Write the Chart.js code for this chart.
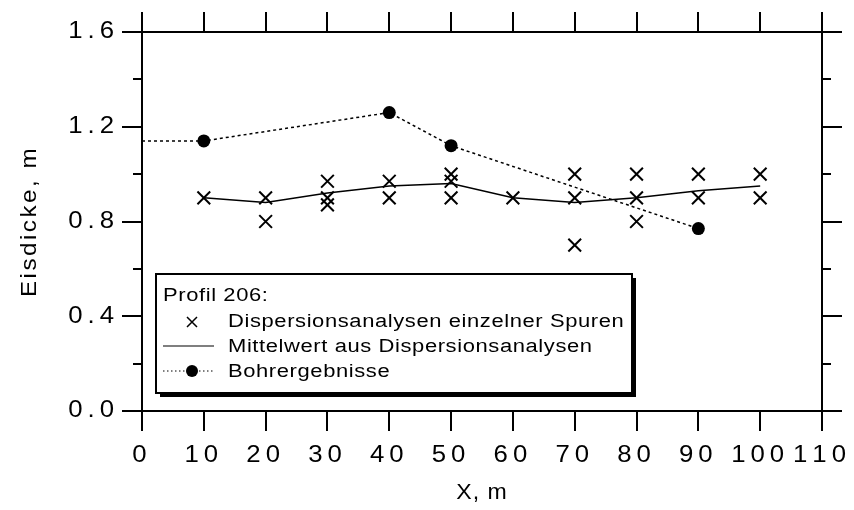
<!DOCTYPE html>
<html>
<head>
<meta charset="utf-8">
<script src="https://cdn.jsdelivr.net/npm/chart.js@4/dist/chart.umd.min.js"></script>
<style>
  html, body { margin: 0; padding: 0; background: #fff; }
  #wrap { width: 854px; height: 510px; }
</style>
</head>
<body>
<div id="wrap"><canvas id="c" width="854" height="510"></canvas></div>
<script>
// Profil 206 – ice thickness along the profile
const spurenX = [10, 20, 20, 30, 30, 30, 40, 40, 50, 50, 50, 60, 70, 70, 70, 80, 80, 80, 90, 90, 100, 100];
const spurenY = [0.90, 0.90, 0.80, 0.97, 0.90, 0.87, 0.97, 0.90, 1.00, 0.97, 0.90, 0.90, 1.00, 0.90, 0.70, 1.00, 0.90, 0.80, 1.00, 0.90, 1.00, 0.90];

const mittelX = [10, 20, 30, 40, 50, 60, 70, 80, 90, 100];
const mittelY = [0.90, 0.88, 0.92, 0.95, 0.96, 0.90, 0.88, 0.90, 0.93, 0.95];

const bohrX = [0, 10, 40, 50, 90];
const bohrY = [1.14, 1.14, 1.26, 1.12, 0.77];
const bohrMarker = [false, true, true, true, true];

const xTicks = [0, 10, 20, 30, 40, 50, 60, 70, 80, 90, 100, 110];
const yTicks = [0.0, 0.4, 0.8, 1.2, 1.6];
const yMinorTicks = [0.2, 0.6, 1.0, 1.4];

const legendTitle = 'Profil 206:';
const legendLabels = ['Dispersionsanalysen einzelner Spuren', 'Mittelwert aus Dispersionsanalysen', 'Bohrergebnisse'];
const xTitle = 'X, m';
const yTitle = 'Eisdicke, m';

const FONT = '"Liberation Sans", Arial, Helvetica, sans-serif';

const pts = (xs, ys) => xs.map((v, i) => ({ x: v, y: ys[i] }));

// draw text glyph by glyph, widened by `stretch` and spaced by `gap`
function spacedText(ctx, str, x, y, align, gap, stretch) {
  stretch = stretch || 1;
  const chars = [...str];
  const widths = chars.map(ch => ctx.measureText(ch).width * stretch);
  const total = widths.reduce((a, b) => a + b, 0) + gap * chars.length;
  let pos = x;
  if (align === 'center') pos = x - total / 2;
  else if (align === 'right') pos = x - (total - gap);
  ctx.textAlign = 'left';
  chars.forEach((ch, i) => {
    ctx.save();
    ctx.translate(pos, y);
    ctx.scale(stretch, 1);
    ctx.fillText(ch, 0, 0);
    ctx.restore();
    pos += widths[i] + gap;
  });
}

const framePlugin = {
  id: 'frame',
  afterDatasetsDraw(chart) {
    const { ctx } = chart;
    const xs = chart.scales.x, ys = chart.scales.y;
    const L = xs.getPixelForValue(xs.min), R = xs.getPixelForValue(xs.max);
    const T = ys.getPixelForValue(ys.max), B = ys.getPixelForValue(ys.min);
    const ext = 20, major = 20, minor = 9;
    ctx.save();
    ctx.strokeStyle = '#000';
    ctx.lineWidth = 2;
    ctx.lineCap = 'butt';
    ctx.beginPath();
    ctx.moveTo(L - ext, T); ctx.lineTo(R + ext, T);
    ctx.moveTo(L - ext, B); ctx.lineTo(R + ext, B);
    ctx.moveTo(L, T - ext); ctx.lineTo(L, B + ext);
    ctx.moveTo(R, T - ext); ctx.lineTo(R, B + ext);
    xTicks.forEach(v => {
      const px = Math.round(xs.getPixelForValue(v));
      ctx.moveTo(px, T); ctx.lineTo(px, T - major);
      ctx.moveTo(px, B); ctx.lineTo(px, B + major);
    });
    yTicks.forEach(v => {
      const py = Math.round(ys.getPixelForValue(v));
      ctx.moveTo(L, py); ctx.lineTo(L - major, py);
      ctx.moveTo(R, py); ctx.lineTo(R + major, py);
    });
    yMinorTicks.forEach(v => {
      const py = Math.round(ys.getPixelForValue(v));
      ctx.moveTo(L, py); ctx.lineTo(L - minor, py);
      ctx.moveTo(R, py); ctx.lineTo(R + minor, py);
    });
    ctx.stroke();

    // tick labels
    ctx.fillStyle = '#000';
    ctx.font = '23px ' + FONT;
    ctx.textBaseline = 'middle';
    xTicks.forEach(v => {
      spacedText(ctx, String(v), xs.getPixelForValue(v), B + 45, 'center', 5, 1.12);
    });
    yTicks.forEach(v => {
      spacedText(ctx, v.toFixed(1), L - 28, ys.getPixelForValue(v), 'right', 5, 1.12);
    });

    // axis titles
    ctx.font = '22px ' + FONT;
    spacedText(ctx, xTitle, (L + R) / 2, 493, 'center', 1, 1.05);
    ctx.save();
    ctx.translate(30, (T + B) / 2);
    ctx.rotate(-Math.PI / 2);
    spacedText(ctx, yTitle, 0, 0, 'center', 2.5, 1.1);
    ctx.restore();
    ctx.restore();
  },
  afterDraw(chart) {
    const { ctx } = chart;
    const bx = 156, by = 274, bw = 476, bh = 119;
    ctx.save();
    // drop shadow
    ctx.fillStyle = '#000';
    ctx.fillRect(bx + 4, by + 4, bw, bh);
    ctx.fillStyle = '#fff';
    ctx.fillRect(bx, by, bw, bh);
    ctx.strokeStyle = '#000';
    ctx.lineWidth = 2;
    ctx.strokeRect(bx, by, bw, bh);

    ctx.fillStyle = '#000';
    ctx.font = '18px ' + FONT;
    ctx.textBaseline = 'middle';
    const rows = [296, 322, 347, 372];
    spacedText(ctx, legendTitle, 163, rows[0], 'left', 0.6, 1.22);
    legendLabels.forEach((t, i) => spacedText(ctx, t, 228, rows[i + 1], 'left', 0.6, 1.22));

    // sample: cross
    ctx.lineWidth = 1.5;
    ctx.beginPath();
    const cx = 192, cy = rows[1];
    ctx.moveTo(cx - 5, cy - 5); ctx.lineTo(cx + 5, cy + 5);
    ctx.moveTo(cx + 5, cy - 5); ctx.lineTo(cx - 5, cy + 5);
    ctx.stroke();
    // sample: solid line
    ctx.lineWidth = 1.2;
    ctx.beginPath();
    ctx.moveTo(163, rows[2] - 1); ctx.lineTo(214, rows[2] - 1);
    ctx.stroke();
    // sample: dotted line with dot
    ctx.setLineDash([1.5, 2.5]);
    ctx.lineWidth = 1;
    ctx.beginPath();
    ctx.moveTo(163, rows[3] - 1); ctx.lineTo(213, rows[3] - 1);
    ctx.stroke();
    ctx.setLineDash([]);
    ctx.beginPath();
    ctx.arc(192, rows[3] - 1, 6, 0, Math.PI * 2);
    ctx.fill();
    ctx.restore();
  }
};

new Chart(document.getElementById('c'), {
  type: 'scatter',
  data: {
    datasets: [
      {
        label: legendLabels[0],
        data: pts(spurenX, spurenY),
        showLine: false,
        pointStyle: 'crossRot',
        pointRadius: 9,
        pointBorderWidth: 2,
        borderColor: '#000',
        backgroundColor: '#000'
      },
      {
        label: legendLabels[1],
        data: pts(mittelX, mittelY),
        showLine: true,
        borderColor: '#000',
        borderWidth: 1.5,
        pointRadius: 0,
        tension: 0
      },
      {
        label: legendLabels[2],
        data: pts(bohrX, bohrY),
        showLine: true,
        borderColor: '#000',
        backgroundColor: '#000',
        borderWidth: 1.5,
        borderDash: [3, 3],
        pointStyle: 'circle',
        pointRadius: bohrMarker.map(m => m ? 6.5 : 0),
        pointBorderWidth: 0,
        tension: 0
      }
    ]
  },
  options: {
    responsive: false,
    animation: false,
    devicePixelRatio: 1,
    layout: { padding: { left: 142, right: 32, top: 32, bottom: 99 } },
    scales: {
      x: { type: 'linear', min: 0, max: 110, display: false },
      y: { type: 'linear', min: 0, max: 1.6, display: false }
    },
    plugins: {
      legend: { display: false },
      tooltip: { enabled: false }
    }
  },
  plugins: [framePlugin]
});
</script>
</body>
</html>
